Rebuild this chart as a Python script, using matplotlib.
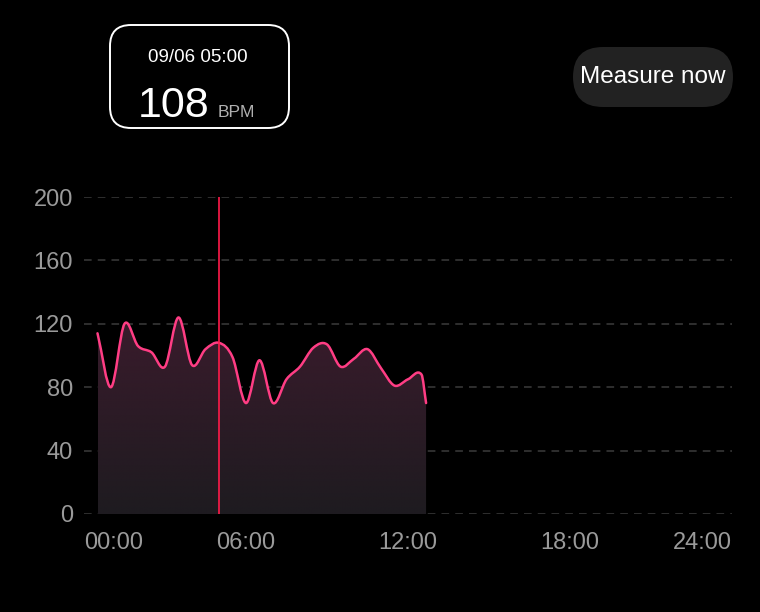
import numpy as np
import matplotlib
matplotlib.use("Agg")
import matplotlib.pyplot as plt
from matplotlib.path import Path
from matplotlib.patches import PathPatch, FancyBboxPatch
from matplotlib.transforms import IdentityTransform

# ---- data ----
hours = [0.5, 1.0, 1.5, 2.0, 2.5, 3.0, 3.5, 4.0, 4.5, 5.0, 5.5, 6.0, 6.5,
         7.0, 7.5, 8.0, 8.5, 9.0, 9.5, 10.0, 10.5, 11.0, 11.5, 12.0, 12.5, 12.67]
bpm = [114, 80, 120, 106, 102, 93, 124, 94, 104, 108, 99, 70, 97,
       70, 85, 93, 105, 107, 93, 98, 104, 92, 81, 85, 88, 70]
x_ticks = [0, 6, 12, 18, 24]
x_labels = ["00:00", "06:00", "12:00", "18:00", "24:00"]
y_ticks = [0, 40, 80, 120, 160, 200]
sel_hour = 5.0
sel_date = "09/06 05:00"
sel_value = "108"
unit = "BPM"
button_text = "Measure now"

plt.rcParams['font.family'] = ['Liberation Sans', 'DejaVu Sans']

W, H = 760, 612
fig = plt.figure(figsize=(W / 100, H / 100), dpi=100, facecolor="black")
ax = fig.add_axes([84 / W, (H - 514) / H, 648 / W, 317 / H])
ax.set_facecolor("black")
ax.set_xlim(0, 24)
ax.set_ylim(0, 200)
for s in ax.spines.values():
    s.set_visible(False)

# grid
for yv in y_ticks:
    ax.axhline(yv, color="#3c3c3c", lw=1.1, ls=(0, (5, 4)), zorder=1)

ax.set_yticks(y_ticks)
ax.set_yticklabels([str(v) for v in y_ticks])
ax.set_xticks(x_ticks)
ax.set_xticklabels(x_labels)
ax.tick_params(axis="both", length=0, colors="#9a9a9a", labelsize=17)
ax.tick_params(axis="y", pad=8)
ax.tick_params(axis="x", pad=13)
lbls = ax.get_xticklabels()
lbls[0].set_horizontalalignment("left")
lbls[-1].set_horizontalalignment("right")

# smooth bezier path through data
x = np.array(hours, float)
y = np.array(bpm, float)
n = len(x)
m = np.zeros(n)
m[0] = (y[1] - y[0]) / (x[1] - x[0])
m[-1] = (y[-1] - y[-2]) / (x[-1] - x[-2])
for i in range(1, n - 1):
    m[i] = (y[i + 1] - y[i - 1]) / (x[i + 1] - x[i - 1])
verts = [(x[0], y[0])]
codes = [Path.MOVETO]
for i in range(n - 1):
    h = x[i + 1] - x[i]
    verts += [(x[i] + h / 3, y[i] + m[i] * h / 3),
              (x[i + 1] - h / 3, y[i + 1] - m[i + 1] * h / 3),
              (x[i + 1], y[i + 1])]
    codes += [Path.CURVE4] * 3
line_path = Path(verts, codes)
fill_path = Path(verts + [(x[-1], 0), (x[0], 0), (x[0], y[0])],
                 codes + [Path.LINETO, Path.LINETO, Path.CLOSEPOLY])

# gradient fill
top = np.array([0x3a, 0x1b, 0x2c]) / 255
bot = np.array([0x1e, 0x1b, 0x20]) / 255
t = np.linspace(1, 0, 256)[:, None]
grad = (bot + (top - bot) * t)[:, None, :]
grad = np.repeat(grad, 2, axis=1)
ymax = y.max()
im = ax.imshow(grad, extent=[x[0], x[-1], 0, ymax], aspect="auto",
               origin="upper", zorder=2, interpolation="bilinear")
clip = PathPatch(fill_path, transform=ax.transData, facecolor="none", edgecolor="none")
ax.add_patch(clip)
im.set_clip_path(clip)
ax.set_xlim(0, 24)
ax.set_ylim(0, 200)

ax.add_patch(PathPatch(line_path, facecolor="none", edgecolor="#ff3d84",
                       lw=1.8, zorder=4, capstyle="round", joinstyle="round"))

# selection line
ax.plot([sel_hour, sel_hour], [0, 200], color="#ff1a4a", lw=1.2, zorder=5)

# tooltip box
idt = IdentityTransform()
fig.add_artist(FancyBboxPatch((110, H - 128), 179, 103,
                              boxstyle="round,pad=0,rounding_size=21",
                              transform=idt, facecolor="black",
                              edgecolor="white", lw=1.4))
fig.text(198 / W, 1 - 57 / H, sel_date, color="white", fontsize=13.5,
         ha="center", va="center")
fig.text(138 / W, 1 - 117 / H, sel_value, color="white", fontsize=31,
         ha="left", va="baseline")
fig.text(218 / W, 1 - 117 / H, unit, color="#b0b0b0", fontsize=12.5,
         ha="left", va="baseline")

# button
fig.add_artist(FancyBboxPatch((573, H - 107), 160, 60,
                              boxstyle="round,pad=0,rounding_size=30",
                              transform=idt, facecolor="#222222",
                              edgecolor="none"))
fig.text(653 / W, 1 - 77 / H, button_text, color="white", fontsize=17.5,
         ha="center", va="center")

fig.savefig("out.png", dpi=100, facecolor="black")
